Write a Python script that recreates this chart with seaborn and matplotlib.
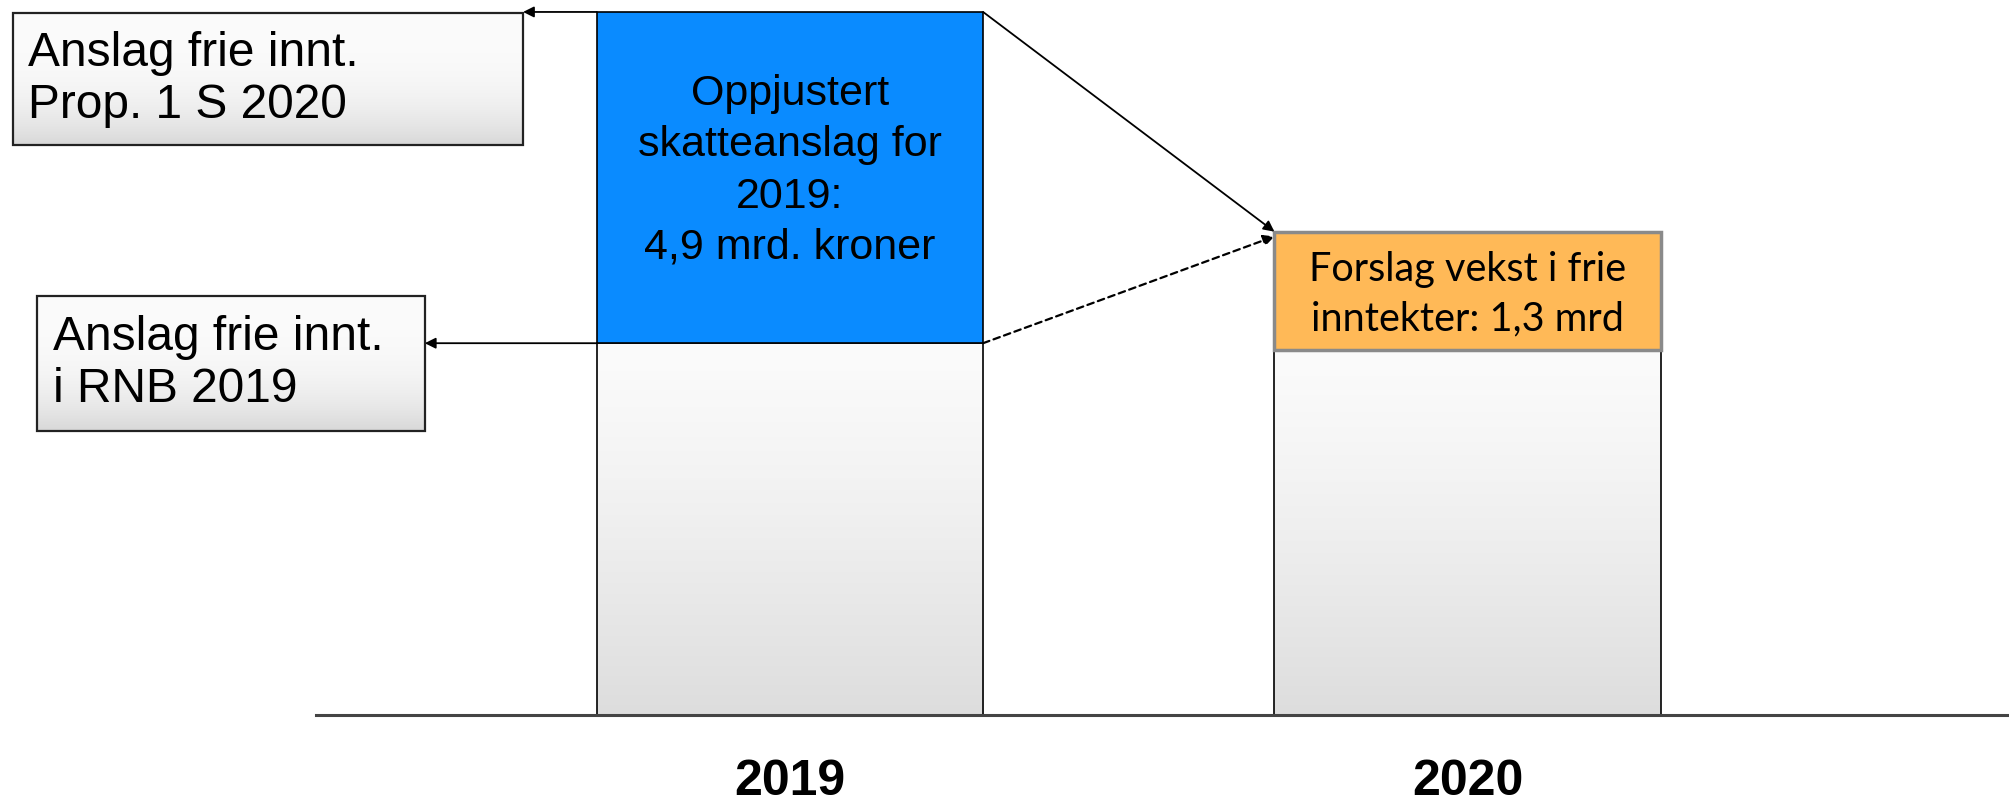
import numpy as np
import pandas as pd
import seaborn as sns
import matplotlib.colors as mcolors
from matplotlib import pyplot as plt
from matplotlib.patches import Rectangle

# schematic values (bars are not drawn to scale)
years = ["2019", "2020"]
base_values = [5.5, 5.4]
top_values = [4.9, 1.75]
top_colors = ["#0A8BFF", "#FFB957"]
top_edges = ["black", "#8A8A8A"]
top_edge_widths = [1.2, 2.5]
top_texts = ["Oppjustert\nskatteanslag for\n2019:\n4,9 mrd. kroner",
             "Forslag vekst i frie\ninntekter: 1,3 mrd"]
box_texts = ["Anslag frie innt.\nProp. 1 S 2020",
             "Anslag frie innt.\ni RNB 2019"]


def gradient_fill(ax, x0, y0, w, h, top_col, bottom_col, power=1.0, z=1):
    t = np.linspace(0, 1, 256) ** power
    c0 = np.array(mcolors.to_rgb(top_col))
    c1 = np.array(mcolors.to_rgb(bottom_col))
    img = (c0[None, :] * (1 - t[:, None]) + c1[None, :] * t[:, None])[:, None, :]
    im = ax.imshow(img, extent=(x0, x0 + w, y0, y0 + h), origin="upper",
                   aspect="auto", interpolation="bilinear", zorder=z)
    im.set_clip_box(ax.figure.bbox)
    return im


sns.set_theme(style="white")
plt.rcParams["font.family"] = ["Liberation Sans", "DejaVu Sans"]
plt.rcParams["text.color"] = "black"
plt.rcParams["xtick.color"] = "black"

fig = plt.figure(figsize=(20.09, 8.02), dpi=100)
ax = fig.add_axes([316 / 2009, 0, 1 - 316 / 2009, 1])

df = pd.DataFrame({"year": years, "base": base_values, "top": top_values})
sns.barplot(data=df, x="year", y="base", order=years, width=0.57,
            color="#eeeeee", saturation=1, edgecolor="black", linewidth=1.2,
            errorbar=None, ax=ax)
base_bars = list(ax.patches)
for i, yr in enumerate(years):
    sns.barplot(x=[yr], y=[top_values[i]], order=years, bottom=base_values[i],
                width=0.57, color=top_colors[i], saturation=1,
                edgecolor=top_edges[i], linewidth=top_edge_widths[i],
                errorbar=None, ax=ax)
top_bars = list(ax.patches[len(base_bars):])

# grey gradient inside the lower bars
for p in base_bars:
    gradient_fill(ax, p.get_x(), p.get_y(), p.get_width(), p.get_height(),
                  "#fbfbfb", "#dddddd", power=1.3, z=0.5)
    p.set_facecolor("none")
    p.set_zorder(2)
for p in top_bars:
    p.set_zorder(2)

# text inside the top bars
blue, orange = top_bars
ax.text(blue.get_x() + blue.get_width() / 2, blue.get_y() + blue.get_height() * 0.52,
        top_texts[0], ha="center", va="center", fontsize=31, linespacing=1.36,
        color="black", zorder=4)
ax.text(orange.get_x() + orange.get_width() / 2, orange.get_y() + orange.get_height() * 0.47,
        top_texts[1], ha="center", va="center", fontsize=28.5, linespacing=1.4,
        family=["Lato", "DejaVu Sans"], color="black", zorder=4)

# the two explanation boxes on the left
box_specs = [(-1.147, 8.43, 0.753, 1.955), (-1.111, 4.20, 0.572, 2.0)]
box_right = []
for (x0, y0, w, h), txt in zip(box_specs, box_texts):
    gradient_fill(ax, x0, y0, w, h, "#fbfbfb", "#d8d8d8", power=3.0, z=2.5)
    ax.add_patch(Rectangle((x0, y0), w, h, facecolor="none", edgecolor="#222222",
                           lw=1.6, clip_on=False, zorder=3))
    ax.text(x0 + 0.023, y0 + h / 2, txt, ha="left", va="center", fontsize=34.5,
            linespacing=1.2, color="black", clip_on=False, zorder=4)
    box_right.append(x0 + w)

arrow_kw = dict(arrowstyle="-|>", mutation_scale=16, lw=1.3, color="black",
                shrinkA=0, shrinkB=0)
b_left = blue.get_x()
b_right = blue.get_x() + blue.get_width()
b_top = blue.get_y() + blue.get_height()
b_bottom = blue.get_y()
o_left = orange.get_x()
o_top = orange.get_y() + orange.get_height()

ax.annotate("", xy=(box_right[0], b_top), xytext=(b_left, b_top),
            arrowprops=arrow_kw, annotation_clip=False, zorder=5)
ax.annotate("", xy=(box_right[1], b_bottom), xytext=(b_left, b_bottom),
            arrowprops=arrow_kw, annotation_clip=False, zorder=5)
ax.annotate("", xy=(o_left, o_top), xytext=(b_right, b_top),
            arrowprops=arrow_kw, annotation_clip=False, zorder=5)
ax.annotate("", xy=(o_left, o_top - 0.07), xytext=(b_right, b_bottom),
            arrowprops=dict(arrow_kw, linestyle=(0, (3, 2)), lw=1.6),
            annotation_clip=False, zorder=5)

ax.set_xlim(-474 / 677.5, 1219 / 677.5)
ax.set_ylim(-87 / 67.6, 715 / 67.6)

for s in ["top", "right", "left"]:
    ax.spines[s].set_visible(False)
ax.spines["bottom"].set_position(("data", 0))
ax.spines["bottom"].set_color("#444444")
ax.spines["bottom"].set_linewidth(2.2)
ax.set_yticks([])
ax.set_xlabel("")
ax.set_ylabel("")
ax.tick_params(axis="x", length=0, pad=32, labelsize=36, labelcolor="black")
for lab in ax.get_xticklabels():
    lab.set_fontweight("bold")

fig.savefig("out.png", dpi=100)
